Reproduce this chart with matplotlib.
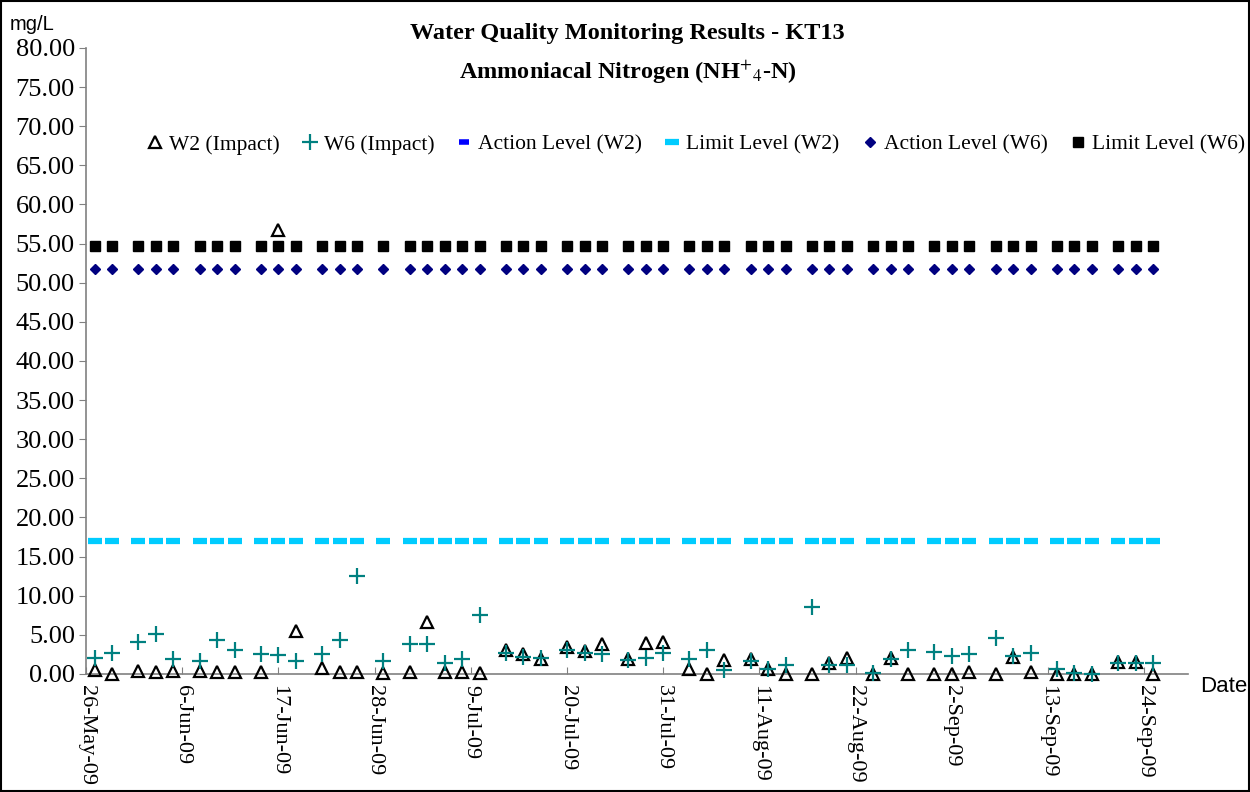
import matplotlib
matplotlib.use('Agg')
import matplotlib.pyplot as plt
import matplotlib.patches as patches
import pandas as pd

# sampling dates (Mon / Wed / Fri)
sample_dates = ['2009-05-27', '2009-05-29', '2009-06-01', '2009-06-03', '2009-06-05',
                '2009-06-08', '2009-06-10', '2009-06-12', '2009-06-15', '2009-06-17',
                '2009-06-19', '2009-06-22', '2009-06-24', '2009-06-26', '2009-06-29',
                '2009-07-02', '2009-07-04', '2009-07-06', '2009-07-08', '2009-07-10',
                '2009-07-13', '2009-07-15', '2009-07-17', '2009-07-20', '2009-07-22',
                '2009-07-24', '2009-07-27', '2009-07-29', '2009-07-31', '2009-08-03',
                '2009-08-05', '2009-08-07', '2009-08-10', '2009-08-12', '2009-08-14',
                '2009-08-17', '2009-08-19', '2009-08-21', '2009-08-24', '2009-08-26',
                '2009-08-28', '2009-08-31', '2009-09-02', '2009-09-04', '2009-09-07',
                '2009-09-09', '2009-09-11', '2009-09-14', '2009-09-16', '2009-09-18',
                '2009-09-21', '2009-09-23', '2009-09-25']

w2_impact = [0.5, 0.0, 0.4, 0.3, 0.4, 0.4, 0.2, 0.2, 0.2, 56.7,
             5.5, 0.8, 0.3, 0.3, 0.1, 0.3, 6.7, 0.3, 0.3, 0.1,
             3.1, 2.5, 1.9, 3.4, 3.0, 3.8, 1.9, 4.0, 4.1, 0.7,
             0.0, 1.8, 1.9, 0.7, 0.0, 0.0, 1.4, 2.1, 0.0, 2.1,
             0.0, 0.0, 0.0, 0.3, 0.0, 2.2, 0.3, 0.0, 0.0, 0.0,
             1.5, 1.5, 0.0]

w6_impact = [2.0, 2.65, 4.05, 5.1, 1.9, 1.67, 4.36, 3.08, 2.6, 2.44,
             1.67, 2.6, 4.36, 12.5, 1.67, 3.85, 3.85, 1.45, 1.9, 7.56,
             2.65, 2.2, 2.0, 3.1, 2.65, 2.56, 1.8, 2.1, 2.65, 1.9,
             3.1, 0.5, 1.6, 0.7, 1.15, 8.55, 1.15, 1.15, 0.1, 1.9,
             3.1, 2.86, 2.35, 2.56, 4.57, 2.35, 2.65, 0.7, 0.1, 0.0,
             1.37, 1.37, 1.37]

action_w2 = 17.0
limit_w2 = 17.0
action_w6 = 51.8
limit_w6 = 54.7

tick_dates = ['2009-05-26', '2009-06-06', '2009-06-17', '2009-06-28', '2009-07-09',
              '2009-07-20', '2009-07-31', '2009-08-11', '2009-08-22', '2009-09-02',
              '2009-09-13', '2009-09-24']
tick_labels = ['26-May-09', '6-Jun-09', '17-Jun-09', '28-Jun-09', '9-Jul-09',
               '20-Jul-09', '31-Jul-09', '11-Aug-09', '22-Aug-09', '2-Sep-09',
               '13-Sep-09', '24-Sep-09']

dates = pd.to_datetime(sample_dates)
n = len(dates)

serif = 'Liberation Serif'
narrow = ['Liberation Sans Narrow', 'Liberation Sans', 'DejaVu Sans']
plt.rcParams['font.family'] = serif
plt.rcParams['mathtext.fontset'] = 'stix'

fig = plt.figure(figsize=(12.5, 7.92), dpi=100)
ax = fig.add_axes([0.0688, 0.149, 0.8816, 0.7904])

ax.plot(dates, w2_impact, linestyle='none', marker='^', ms=9, mfc='none', mec='black',
        mew=1.6, label='W2 (Impact)', clip_on=False, zorder=3)
ax.plot(dates, w6_impact, linestyle='none', marker='+', ms=11, mec='#008080',
        mew=1.6, label='W6 (Impact)', clip_on=False, zorder=4)
ax.plot(dates, [action_w2] * n, linestyle='none', marker='_', ms=7, mec='#0000FF',
        mew=4, label='Action Level (W2)', zorder=2)
ax.plot(dates, [limit_w2] * n, linestyle='none', marker='_', ms=10, mec='#00CCFF',
        mew=4.5, label='Limit Level (W2)', zorder=3)
ax.plot(dates, [action_w6] * n, linestyle='none', marker='D', ms=5, mfc='#000080',
        mec='#000080', label='Action Level (W6)', zorder=3)
ax.plot(dates, [limit_w6] * n, linestyle='none', marker='s', ms=6.5, mfc='black',
        mec='black', label='Limit Level (W6)', zorder=3)

ax.set_ylim(0, 80)
ax.set_yticks(range(0, 81, 5))
ax.set_yticklabels(['%.2f' % v for v in range(0, 81, 5)], fontsize=19)
ax.set_xlim(pd.Timestamp('2009-05-26'), pd.Timestamp('2009-09-29'))
ax.set_xticks(pd.to_datetime(tick_dates))
ax.set_xticklabels(tick_labels, rotation=-90, ha='center', va='top', fontsize=16)

for s in ['top', 'right']:
    ax.spines[s].set_visible(False)
for s in ['left', 'bottom']:
    ax.spines[s].set_color('#808080')
    ax.spines[s].set_linewidth(1.2)
ax.tick_params(axis='y', direction='out', length=5, color='#808080', pad=3)
ax.tick_params(axis='x', direction='in', length=5, color='#808080', pad=8)

fig.legend(loc='center right', bbox_to_anchor=(0.996, 0.817), ncol=6, frameon=False,
           fontsize=15.5, handlelength=0.6, handletextpad=0.35, columnspacing=1.1,
           borderaxespad=0, borderpad=0)

fig.text(0.502, 1 - 33 / 792, 'Water Quality Monitoring Results - KT13', ha='center',
         va='center', fontsize=17.5, fontweight='bold')
fig.text(0.502, 1 - 72 / 792, r'Ammoniacal Nitrogen (NH$^{+}$$_{4}$-N)', ha='center',
         va='center', fontsize=17.5, fontweight='bold')
fig.text(10 / 1250, 1 - 24 / 792, 'mg/L', ha='left', va='center', fontsize=14.5, family=narrow)
fig.text(1200 / 1250, 1 - 686 / 792, 'Date', ha='left', va='center', fontsize=16, family=narrow)

fig.patches.append(patches.Rectangle((0.001, 0.001), 0.998, 0.998, transform=fig.transFigure,
                                     fill=False, ec='black', lw=1.5))

fig.savefig('out.png', dpi=100)
